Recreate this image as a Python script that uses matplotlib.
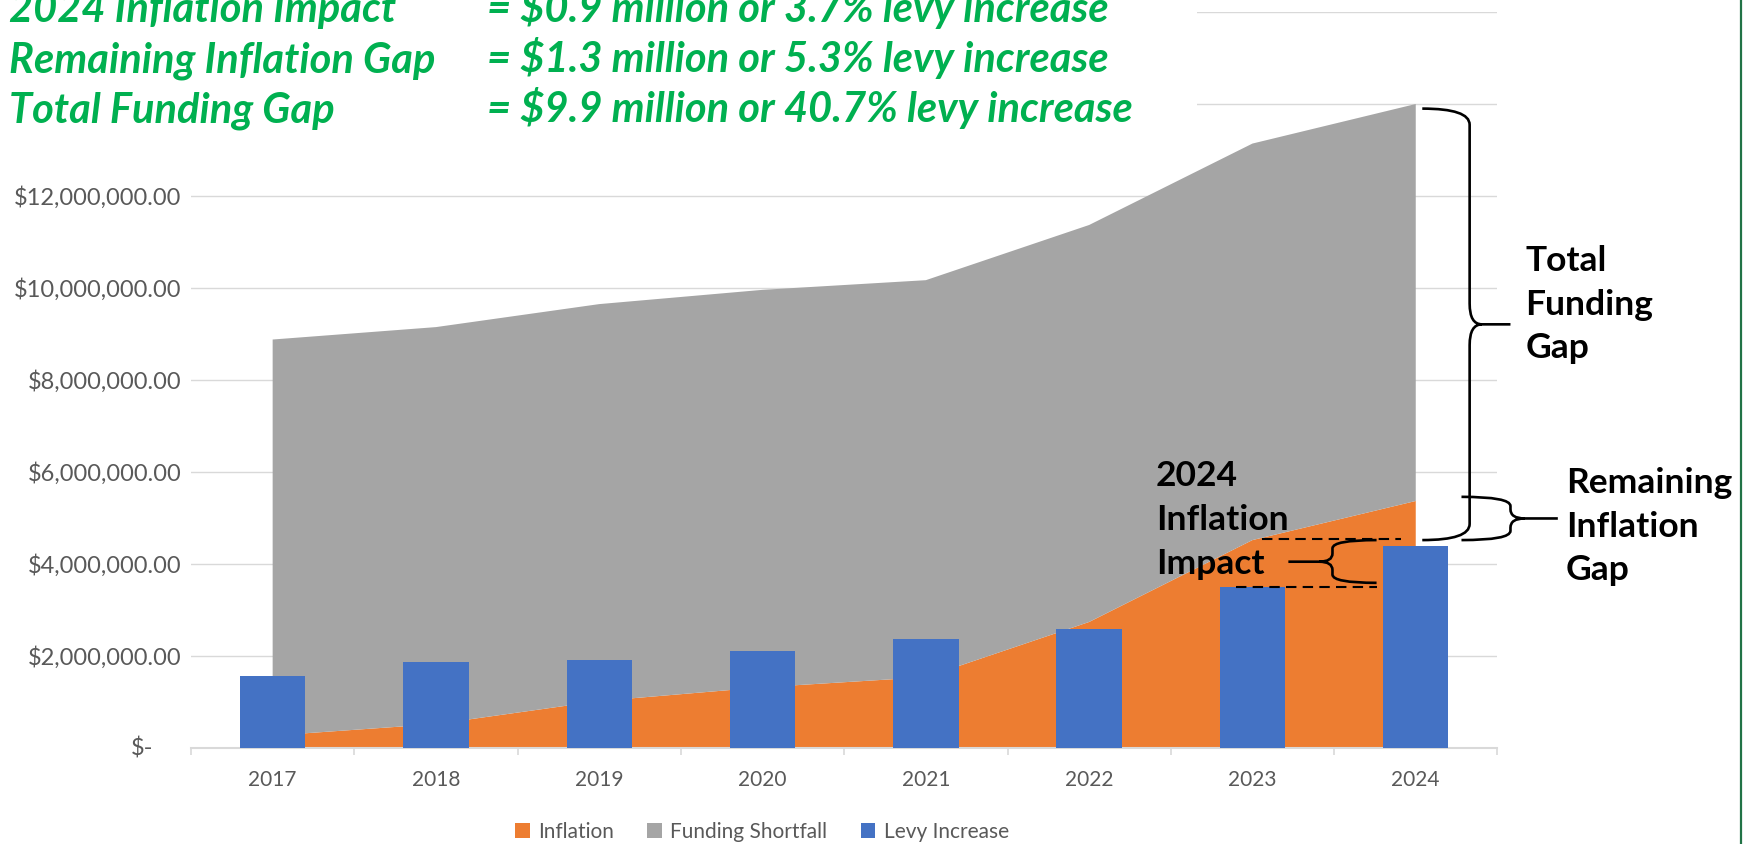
import matplotlib
matplotlib.use("Agg")
import matplotlib.pyplot as plt
import numpy as np
from matplotlib.lines import Line2D
from matplotlib.patches import PathPatch, Rectangle
from matplotlib.path import Path


YEARS = ["2017", "2018", "2019", "2020", "2021", "2022", "2023", "2024"]
INFLATION = [0.27e6, 0.52e6, 1.02e6, 1.32e6, 1.54e6, 2.74e6, 4.52e6, 5.37e6]
FUNDING_SHORTFALL = [8.61e6, 8.63e6, 8.63e6, 8.64e6, 8.63e6, 8.63e6, 8.62e6, 8.63e6]
LEVY_INCREASE = [1.565e6, 1.88e6, 1.91e6, 2.10e6, 2.38e6, 2.59e6, 3.49e6, 4.39e6]

# 14M and 16M labels sit under the summary text box, so they stay blank
Y_TICKS = [0, 2e6, 4e6, 6e6, 8e6, 10e6, 12e6, 14e6, 16e6]
Y_TICK_LABELS = ["", "$2,000,000.00", "$4,000,000.00", "$6,000,000.00",
                 "$8,000,000.00", "$10,000,000.00", "$12,000,000.00", "", ""]

SUMMARY_LEFT = ["2024 Inflation Impact", "Remaining Inflation Gap", "Total Funding Gap"]
SUMMARY_RIGHT = ["= $0.9 million or 3.7% levy increase",
                 "= $1.3 million or 5.3% levy increase",
                 "= $9.9 million or 40.7% levy increase"]

ORANGE = "#ED7D31"
GRAY = "#A5A5A5"
BLUE = "#4472C4"
GRID = "#D9D9D9"
LABEL = "#595959"
GREEN = "#00B050"

W, H = 1747, 844
FONT = ["Lato", "DejaVu Sans"]

plt.rcParams["font.family"] = FONT


def draw_brace(ax, x_end, x_spine, x_tip, y_top, y_bot, y_mid, r_end, r_tip):
    d = (x_tip - x_spine) * 0.3
    verts = [
        (x_end, y_top), (x_spine, y_top), (x_spine, y_top - r_end),
        (x_spine, y_mid + r_tip),
        (x_spine, y_mid), (x_spine + d, y_mid),
        (x_tip, y_mid),
        (x_spine + d, y_mid),
        (x_spine, y_mid), (x_spine, y_mid - r_tip),
        (x_spine, y_bot + r_end),
        (x_spine, y_bot), (x_end, y_bot),
    ]
    codes = [Path.MOVETO, Path.CURVE3, Path.CURVE3,
             Path.LINETO,
             Path.CURVE3, Path.CURVE3,
             Path.LINETO,
             Path.MOVETO,
             Path.CURVE3, Path.CURVE3,
             Path.LINETO,
             Path.CURVE3, Path.CURVE3]
    patch = PathPatch(Path(verts, codes), facecolor="none", edgecolor="black",
                      linewidth=1.9, clip_on=False, zorder=6)
    ax.add_patch(patch)


fig = plt.figure(figsize=(W / 100, H / 100), dpi=100)
ax = fig.add_axes([191 / W, 1 - 748 / H, (1497.4 - 191) / W, (748 - 12) / H])

x = np.arange(len(YEARS))
ax.stackplot(x, INFLATION, FUNDING_SHORTFALL, colors=[ORANGE, GRAY],
             labels=["Inflation", "Funding Shortfall"], zorder=2)
ax.bar(x, LEVY_INCREASE, width=0.4, color=BLUE, label="Levy Increase", zorder=3)

ax.set_xlim(-0.5, len(YEARS) - 0.5)
ax.set_ylim(0, 16e6)
ax.set_yticks(Y_TICKS)
ax.set_yticklabels(Y_TICK_LABELS)
ax.set_xticks(x)
ax.set_xticklabels(YEARS)
ax.set_xticks(np.arange(-0.5, len(YEARS), 1), minor=True)

ax.tick_params(axis="y", length=0, pad=7, labelcolor=LABEL, labelsize=17)
ax.tick_params(axis="x", which="major", length=0, pad=16, labelcolor=LABEL, labelsize=15)
ax.tick_params(axis="x", which="minor", length=5, width=1.2, color=GRID)
ax.annotate("$-", xy=(0, 0), xycoords=("axes fraction", "data"), xytext=(-38, 0),
            textcoords="offset pixels", ha="right", va="center", color=LABEL, fontsize=17)

for side in ["top", "right", "left"]:
    ax.spines[side].set_visible(False)
ax.spines["bottom"].set_color(GRID)
ax.spines["bottom"].set_linewidth(1.5)
ax.yaxis.grid(True, color=GRID, linewidth=1.0)
ax.set_axisbelow(True)

# braces and dashed guides
draw_brace(ax, 7.04, 7.33, 7.58, 13.9e6, 4.52e6, 9.21e6, 0.35e6, 0.45e6)
draw_brace(ax, 7.28, 7.58, 7.87, 5.46e6, 4.52e6, 4.99e6, 0.2e6, 0.2e6)
draw_brace(ax, 6.76, 6.49, 6.22, 4.52e6, 3.59e6, 4.05e6, 0.18e6, 0.18e6)
ax.plot([6.06, 6.91], [4.55e6, 4.55e6], color="black", lw=1.5,
        linestyle=(0, (5, 3)), zorder=6, clip_on=False)
ax.plot([5.90, 6.76], [3.51e6, 3.51e6], color="black", lw=1.5,
        linestyle=(0, (5, 3)), zorder=6, clip_on=False)

note_style = dict(ha="left", va="center", fontsize=25.5, fontweight="bold",
                  linespacing=1.45, zorder=7)
ax.text(7.67, 9.64e6, "Total\nFunding\nGap", **note_style)
ax.text(7.92, 4.81e6, "Remaining\nInflation\nGap", **note_style)
ax.text(5.41, 4.96e6, "2024\nInflation\nImpact", **note_style)

legend = fig.legend(loc="center", bbox_to_anchor=(762 / W, 1 - 832 / H), ncol=3,
                    frameon=False, fontsize=15, handlelength=0.7, handleheight=0.7,
                    handletextpad=0.4, columnspacing=1.6, labelcolor=LABEL)

# white box behind the summary text
fig.add_artist(Rectangle((0, 1 - 140 / H), 1197 / W, 140 / H, transform=fig.transFigure,
                         facecolor="white", edgecolor="none", zorder=5))
for i, (left, right) in enumerate(zip(SUMMARY_LEFT, SUMMARY_RIGHT)):
    y = 1 - (22 + 50 * i) / H
    fig.text(9 / W, y, left, color=GREEN, fontsize=30, fontweight="bold",
             fontstyle="italic", va="baseline", zorder=6)
    fig.text(487 / W, y, right, color=GREEN, fontsize=30, fontweight="bold",
             fontstyle="italic", va="baseline", zorder=6)

fig.add_artist(Line2D([1741 / W, 1741 / W], [0, 1], transform=fig.transFigure,
                      color="#217346", linewidth=1.6))

fig.savefig("out.png", dpi=100)
